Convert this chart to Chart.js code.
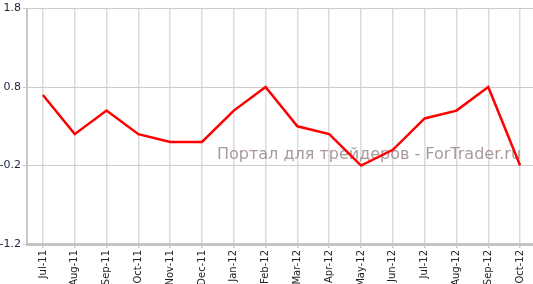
<!DOCTYPE html>
<html>
<head>
<meta charset="utf-8">
<script src="https://cdn.jsdelivr.net/npm/chart.js@4.4.0/dist/chart.umd.min.js"></script>
<style>
  html, body { margin: 0; padding: 0; background: #fff; overflow: hidden; width: 533px; height: 284px; }
  canvas { display: block; }
</style>
</head>
<body>
<canvas id="chart" width="536" height="284"></canvas>
<script>
// chart data
const months = ['Jul-11', 'Aug-11', 'Sep-11', 'Oct-11', 'Nov-11', 'Dec-11', 'Jan-12', 'Feb-12',
                'Mar-12', 'Apr-12', 'May-12', 'Jun-12', 'Jul-12', 'Aug-12', 'Sep-12', 'Oct-12'];
const values = [0.7, 0.2, 0.5, 0.2, 0.1, 0.1, 0.5, 0.8, 0.3, 0.2, -0.2, 0.0, 0.4, 0.5, 0.8, -0.2];
const yTicks = [-1.2, -0.2, 0.8, 1.8];
const watermark = 'Портал для трейдеров - ForTrader.ru';

// watermark text drawn under the line
const watermarkPlugin = {
    id: 'watermark',
    beforeDatasetsDraw(chart) {
        const ctx = chart.ctx;
        ctx.save();
        ctx.font = '16px "DejaVu Sans"';
        ctx.fillStyle = 'rgba(140, 120, 120, 0.75)';
        ctx.textBaseline = 'alphabetic';
        ctx.fillText(watermark, 217, 159);
        ctx.restore();
    }
};

const ctx = document.getElementById('chart').getContext('2d');
new Chart(ctx, {
    type: 'line',
    data: {
        labels: months,
        datasets: [{
            data: values,
            borderColor: '#ff0000',
            borderWidth: 2.5,
            pointRadius: 0,
            tension: 0,
            fill: false
        }]
    },
    options: {
        responsive: false,
        animation: false,
        layout: { padding: { top: 8, right: 0, left: 0, bottom: 0 } },
        plugins: {
            legend: { display: false },
            tooltip: { enabled: false }
        },
        scales: {
            x: {
                offset: true,
                grid: {
                    offset: false,
                    color: '#dcdcdc',
                    lineWidth: 1.5,
                    tickLength: 4,
                    tickColor: '#c8c8c8'
                },
                border: { color: '#c4c4c4', width: 3 },
                ticks: {
                    minRotation: 90,
                    maxRotation: 90,
                    autoSkip: false,
                    padding: 2,
                    color: '#222',
                    font: { family: '"DejaVu Sans"', size: 10 }
                },
                afterFit(scale) { scale.height = 40; }
            },
            y: {
                min: -1.2,
                max: 1.8,
                grid: {
                    color: '#cccccc',
                    lineWidth: 1,
                    tickLength: 4
                },
                border: { color: '#c8c8c8', width: 2 },
                afterBuildTicks(scale) {
                    scale.ticks = yTicks.map(v => ({ value: v }));
                },
                ticks: {
                    padding: 2,
                    color: '#1c2440',
                    font: { family: '"DejaVu Sans"', size: 11 },
                    callback: v => v.toFixed(1)
                },
                afterFit(scale) { scale.width = 27; }
            }
        }
    },
    plugins: [watermarkPlugin]
});
</script>
</body>
</html>
